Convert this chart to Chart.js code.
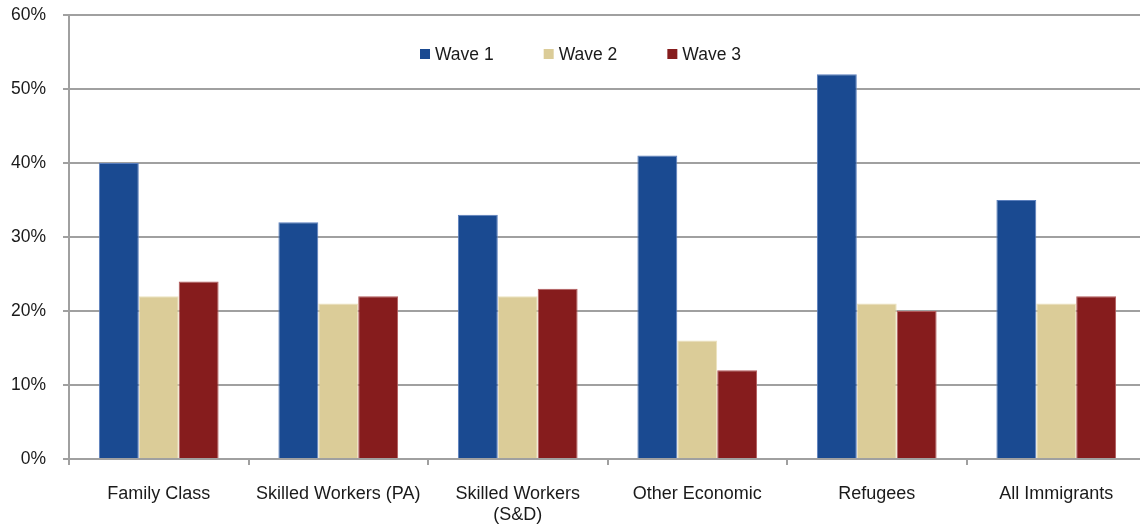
<!DOCTYPE html>
<html>
<head>
<meta charset="utf-8">
<script src="https://cdn.jsdelivr.net/npm/chart.js@4/dist/chart.umd.min.js"></script>
<style>
  html, body { margin: 0; padding: 0; background: #fff; overflow: hidden; }
  canvas { display: block; }
</style>
</head>
<body>
<canvas id="waveChart" width="1146" height="525"></canvas>
<script>
const categories = [
  "Family Class",
  "Skilled Workers (PA)",
  ["Skilled Workers", "(S&D)"],
  "Other Economic",
  "Refugees",
  "All Immigrants"
];
const wave1 = [40, 32, 33, 41, 52, 35];
const wave2 = [22, 21, 22, 16, 21, 21];
const wave3 = [24, 22, 23, 12, 20, 22];
const seriesNames = ["Wave 1", "Wave 2", "Wave 3"];
const yTicks = [0, 10, 20, 30, 40, 50, 60];

const colors = ["#1a4a91", "#dbcc98", "#861c1d"];
const edges  = ["#5b7fbd", "#ece2bd", "#b25a5b"];
const gridGray = "#a0a0a0";
const FONT = "'Liberation Sans', Arial, sans-serif";

// legend drawn inside the plot area, near the top
const innerLegend = {
  id: "innerLegend",
  afterDraw(chart) {
    const ctx = chart.ctx;
    const area = chart.chartArea;
    ctx.save();
    ctx.font = "17.5px " + FONT;
    ctx.textBaseline = "middle";
    let x = area.left + 351;
    const y = area.top + 39;
    chart.data.datasets.forEach(ds => {
      ctx.fillStyle = ds.backgroundColor;
      ctx.fillRect(x, y - 5, 10, 10);
      ctx.fillStyle = "#1a1a1a";
      ctx.fillText(ds.label, x + 15, y + 1);
      x += 15 + ctx.measureText(ds.label).width + 50;
    });
    ctx.restore();
  }
};

const datasets = [wave1, wave2, wave3].map((vals, i) => ({
  label: seriesNames[i],
  data: vals,
  backgroundColor: colors[i],
  borderColor: edges[i],
  borderWidth: 1,
  categoryPercentage: 0.667,
  barPercentage: 1.0
}));

new Chart(document.getElementById("waveChart").getContext("2d"), {
  type: "bar",
  data: { labels: categories, datasets: datasets },
  plugins: [innerLegend],
  options: {
    responsive: false,
    animation: false,
    layout: { padding: { top: 15, left: 0, right: 0, bottom: 0 } },
    plugins: {
      legend: { display: false },
      tooltip: { enabled: false }
    },
    scales: {
      x: {
        grid: {
          offset: true,
          drawOnChartArea: false,
          color: gridGray,
          lineWidth: 2,
          tickLength: 6
        },
        border: { color: gridGray, width: 2 },
        ticks: {
          color: "#1a1a1a",
          font: { family: FONT, size: 18 },
          padding: 18,
          maxRotation: 0,
          autoSkip: false
        },
        afterFit(scale) { scale.height = 66; }
      },
      y: {
        min: 0,
        max: 60,
        afterBuildTicks(scale) { scale.ticks = yTicks.map(v => ({ value: v })); },
        grid: { color: gridGray, lineWidth: 2, tickLength: 6 },
        border: { color: gridGray, width: 2 },
        ticks: {
          color: "#1a1a1a",
          font: { family: FONT, size: 17.5 },
          padding: 17,
          callback: v => v + "%"
        },
        afterFit(scale) {
          scale.width = 69;
          scale.paddingTop = 0;
          scale.paddingBottom = 0;
        }
      }
    }
  }
});
</script>
</body>
</html>
